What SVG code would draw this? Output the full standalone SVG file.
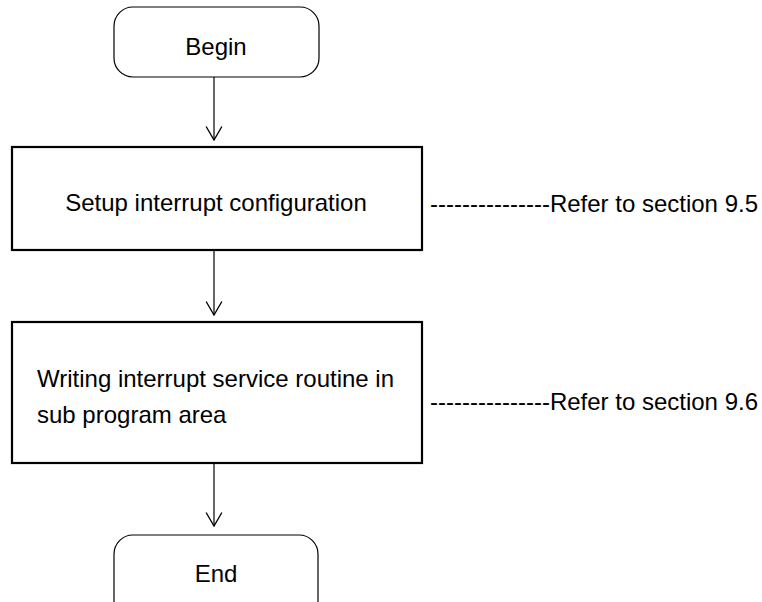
<svg xmlns="http://www.w3.org/2000/svg" width="762" height="602" viewBox="0 0 762 602">
<style>
.t{font-family:"Liberation Sans",Arial,sans-serif;font-size:24px;fill:#000}
.term{fill:#fff;stroke:#000;stroke-width:1.2}
.proc{fill:#fff;stroke:#000;stroke-width:2.2}
.c{stroke:#000;stroke-width:1.2;fill:none}
</style>
<defs>
<marker id="v" markerUnits="userSpaceOnUse" markerWidth="16" markerHeight="18" refX="13" refY="8" orient="auto" viewBox="0 0 14 16">
<path d="M1,1 L13,8 L1,15" fill="none" stroke="#000" stroke-width="1.2"/>
</marker>
</defs>
<rect width="762" height="602" fill="#fff"/>
<g id="connectors">
<line class="c" x1="214" y1="77" x2="214" y2="140" marker-end="url(#v)"/>
<line class="c" x1="214" y1="250" x2="214" y2="315" marker-end="url(#v)"/>
<line class="c" x1="214" y1="463" x2="214" y2="526" marker-end="url(#v)"/>
</g>
<g id="begin">
<rect class="term" x="114" y="7" width="205" height="70" rx="19"/>
<text class="t" x="216" y="55" text-anchor="middle">Begin</text>
</g>
<g id="setup">
<rect class="proc" x="12" y="147" width="410" height="103"/>
<text class="t" x="216" y="211" text-anchor="middle">Setup interrupt configuration</text>
</g>
<g id="note1">
<text class="t" x="430" y="212">---------------Refer to section 9.5</text>
</g>
<g id="writing">
<rect class="proc" x="12" y="322" width="410" height="141"/>
<text class="t" x="37" y="387">Writing interrupt service routine in</text>
<text class="t" x="37" y="423">sub program area</text>
</g>
<g id="note2">
<text class="t" x="430" y="410">---------------Refer to section 9.6</text>
</g>
<g id="end">
<rect class="term" x="114" y="535" width="204" height="90" rx="19"/>
<text class="t" x="216" y="582" text-anchor="middle">End</text>
</g>
</svg>
